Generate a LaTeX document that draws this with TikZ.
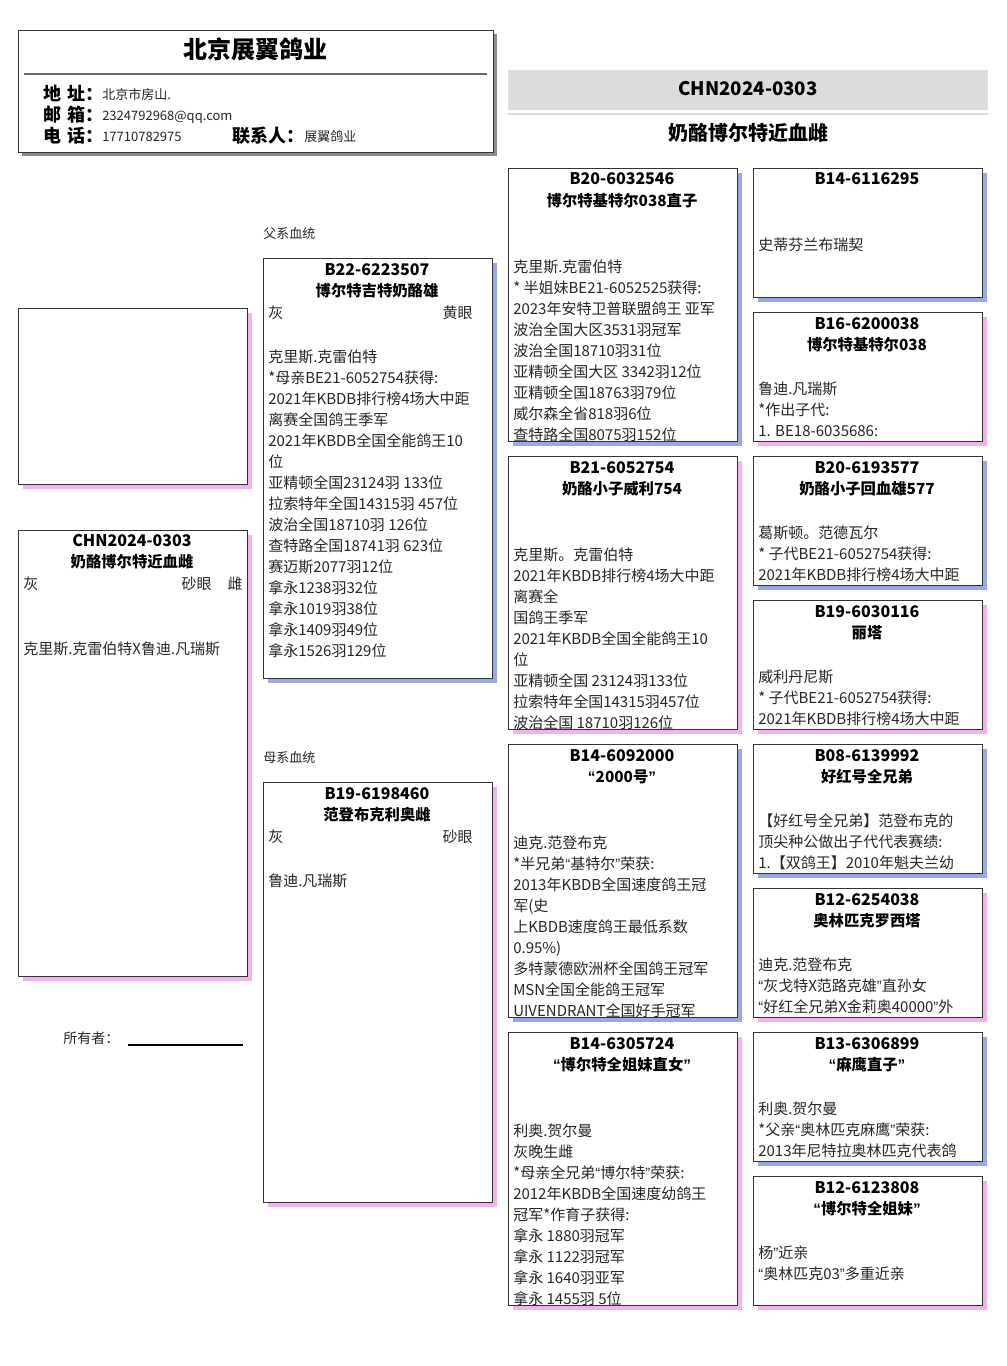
\documentclass[tikz,border=0pt]{standalone}
\usepackage{fontspec}
\setmainfont{Noto Sans CJK SC}
\newfontfamily\latf{Liberation Sans}
\newcommand\oq{{\latf “}}
\newcommand\cq{{\latf ”}}
\definecolor{mshadow}{HTML}{9AA8E6}
\definecolor{fshadow}{HTML}{F0B4EA}
\definecolor{band}{HTML}{DCDCDC}
\definecolor{frame}{HTML}{333333}
\newcommand\pbox[6]{% name, x, y, w, h, shadow colour
  \fill[#6] (#2+5,#3+5) rectangle ++(#4,#5);
  \node[pbx, minimum width={#4*0.75pt}, minimum height={#5*0.75pt}] (#1) at (#2,#3) {};}
\newcommand\hd[4]{% xcenter, ytop, ring, name
  \node[rg] at (#1,#2+17) {#3};
  \node[nm] at (#1,#2+38) {#4};}
\newcommand\bd[3]{% x, first line centre y, lines
  \foreach \t [count=\i from 0] in {#3} {\node[tx] at (#1,#2+6+21*\i) {\t};}}
\begin{document}
\begin{tikzpicture}[x=0.75pt,y=-0.75pt,
  pbx/.style={draw=frame,line width=0.8pt,fill=white,anchor=north west,inner sep=0pt},
  rg/.style={anchor=base,inner sep=0pt,font=\bfseries\fontsize{12}{14}\selectfont},
  nm/.style={anchor=base,inner sep=0pt,font=\bfseries\fontsize{11.5}{14}\selectfont},
  tx/.style={anchor=base west,inner sep=0pt,font=\fontsize{11.25}{14}\selectfont,text=black!85},
  txr/.style={anchor=base east,inner sep=0pt,font=\fontsize{11.25}{14}\selectfont,text=black!85},
  lbl/.style={anchor=base west,inner sep=0pt,font=\bfseries\fontsize{13.5}{16}\selectfont},
  val/.style={anchor=base west,inner sep=0pt,font=\fontsize{9.75}{12}\selectfont,text=black!85},
  small/.style={anchor=base west,inner sep=0pt,font=\fontsize{9.75}{12}\selectfont,text=black!85}]
\useasboundingbox (0,0) rectangle (1006,1366);
\fill[white] (0,0) rectangle (1006,1366);

% ---------- header card ----------
\fill[black!45] (22,34) rectangle (497,156);
\node[pbx, minimum width={475*0.75pt}, minimum height={122*0.75pt}] (card) at (18,30) {};
\node[anchor=base,inner sep=0pt,font=\bfseries\fontsize{18}{20}\selectfont] (farm) at (255,59) {北京展翼鸽业};
\draw[black!60,line width=0.8pt] (24,74) -- (487,74);
\node[lbl] (l1) at (43,101) {地\,\,址：};
\node[val] (v1) at (102,100) {北京市房山.};
\node[lbl] (l2) at (43,122) {邮\,\,箱：};
\node[val] (v2) at (102,121) {2324792968@qq.com};
\node[lbl] (l3) at (43,143) {电\,\,话：};
\node[val] (v3) at (102,142) {17710782975};
\node[lbl] (l4) at (232,143) {联系人：};
\node[val] (v4) at (304,142) {展翼鸽业};

% ---------- title ----------
\fill[band] (508,70) rectangle (988,110);
\draw[band,line width=2.2pt] (508,114) -- (988,114);
\node[anchor=base,inner sep=0pt,font=\bfseries\fontsize{14}{16}\selectfont] (ring) at (748,96) {CHN2024-0303};
\node[anchor=base,inner sep=0pt,font=\bfseries\fontsize{15}{17}\selectfont] (title) at (748,141) {奶酪博尔特近血雌};

% ---------- photo and subject ----------
\pbox{photo}{18}{308}{229}{176}{fshadow}
\pbox{subject}{18}{530}{229}{446}{fshadow}
\node[rg] at (132,546) {CHN2024-0303};
\node[nm] at (132,567) {奶酪博尔特近血雌};
\node[tx] at (23,589) {灰};
\node[txr] at (212,589) {砂眼};
\node[txr] at (243,589) {雌};
\node[tx] at (23,654) {克里斯.克雷伯特X鲁迪.凡瑞斯};

\node[anchor=base west,inner sep=0pt,font=\fontsize{10.5}{12}\selectfont,text=black!85] (owner) at (63,1043) {所有者：};
\draw[black,line width=0.8pt] (128,1045) -- (243,1045);

% ---------- sire ----------
\node[small] (sirelbl) at (263,238) {父系血统};
\pbox{sire}{263}{258}{229}{420}{mshadow}
\hd{377}{258}{B22-6223507}{博尔特吉特奶酪雄}
\node[tx] at (268,318) {灰};
\node[txr] at (473,318) {黄眼};
\bd{268}{356}{{克里斯.克雷伯特},{*母亲BE21-6052754获得:},{2021年KBDB排行榜4场大中距},{离赛全国鸽王季军},{2021年KBDB全国全能鸽王10},{位},{亚精顿全国23124羽 133位},{拉索特年全国14315羽 457位},{波治全国18710羽 126位},{查特路全国18741羽 623位},{赛迈斯2077羽12位},{拿永1238羽32位},{拿永1019羽38位},{拿永1409羽49位},{拿永1526羽129位}}

% ---------- dam ----------
\node[small] (damlbl) at (263,762) {母系血统};
\pbox{dam}{263}{782}{229}{420}{fshadow}
\hd{377}{782}{B19-6198460}{范登布克利奥雌}
\node[tx] at (268,842) {灰};
\node[txr] at (473,842) {砂眼};
\node[tx] at (268,886) {鲁迪.凡瑞斯};

% ---------- grandparents ----------
\pbox{gs1}{508}{168}{229}{273}{mshadow}
\hd{622}{168}{B20-6032546}{博尔特基特尔038直子}
\begin{scope}\clip (508,168) rectangle ++(229,272);
\bd{513}{266}{{克里斯.克雷伯特},{* 半姐妹BE21-6052525获得:},{2023年安特卫普联盟鸽王 亚军},{波治全国大区3531羽冠军},{波治全国18710羽31位},{亚精顿全国大区 3342羽12位},{亚精顿全国18763羽79位},{威尔森全省818羽6位},{查特路全国8075羽152位}}
\end{scope}

\pbox{gd1}{508}{456}{229}{273}{fshadow}
\hd{622}{456}{B21-6052754}{奶酪小子威利754}
\begin{scope}\clip (508,456) rectangle ++(229,272);
\bd{513}{554}{{克里斯。克雷伯特},{2021年KBDB排行榜4场大中距},{离赛全},{国鸽王季军},{2021年KBDB全国全能鸽王10},{位},{亚精顿全国 23124羽133位},{拉索特年全国14315羽457位},{波治全国 18710羽126位}}
\end{scope}

\pbox{gs2}{508}{744}{229}{273}{mshadow}
\hd{622}{744}{B14-6092000}{\oq 2000号\cq}
\begin{scope}\clip (508,744) rectangle ++(229,272);
\bd{513}{842}{{迪克.范登布克},{*半兄弟\oq 基特尔\cq 荣获:},{2013年KBDB全国速度鸽王冠},{军(史},{上KBDB速度鸽王最低系数},{0.95\%)},{多特蒙德欧洲杯全国鸽王冠军},{MSN全国全能鸽王冠军},{UIVENDRANT全国好手冠军}}
\end{scope}

\pbox{gd2}{508}{1032}{229}{273}{fshadow}
\hd{622}{1032}{B14-6305724}{\oq 博尔特全姐妹直女\cq}
\begin{scope}\clip (508,1032) rectangle ++(229,272);
\bd{513}{1130}{{利奥.贺尔曼},{灰晚生雌},{*母亲全兄弟\oq 博尔特\cq 荣获:},{2012年KBDB全国速度幼鸽王},{冠军*作育子获得:},{拿永 1880羽冠军},{拿永 1122羽冠军},{拿永 1640羽亚军},{拿永 1455羽 5位}}
\end{scope}

% ---------- great-grandparents ----------
\pbox{g1}{753}{168}{229}{129}{mshadow}
\node[rg] at (867,185) {B14-6116295};
\bd{758}{244}{{史蒂芬兰布瑞契}}

\pbox{g2}{753}{312}{229}{129}{fshadow}
\hd{867}{312}{B16-6200038}{博尔特基特尔038}
\bd{758}{388}{{鲁迪.凡瑞斯},{*作出子代:},{1. BE18-6035686:}}

\pbox{g3}{753}{456}{229}{129}{mshadow}
\hd{867}{456}{B20-6193577}{奶酪小子回血雄577}
\bd{758}{532}{{葛斯顿。范德瓦尔},{* 子代BE21-6052754获得:},{2021年KBDB排行榜4场大中距}}

\pbox{g4}{753}{600}{229}{129}{fshadow}
\hd{867}{600}{B19-6030116}{丽塔}
\bd{758}{676}{{威利丹尼斯},{* 子代BE21-6052754获得:},{2021年KBDB排行榜4场大中距}}

\pbox{g5}{753}{744}{229}{129}{mshadow}
\hd{867}{744}{B08-6139992}{好红号全兄弟}
\begin{scope}\clip (753,744) rectangle ++(229,128);
\bd{758}{820}{{【好红号全兄弟】范登布克的},{顶尖种公做出子代代表赛绩:},{1.【双鸽王】2010年魁夫兰幼}}
\end{scope}

\pbox{g6}{753}{888}{229}{129}{fshadow}
\hd{867}{888}{B12-6254038}{奥林匹克罗西塔}
\begin{scope}\clip (753,888) rectangle ++(229,128);
\bd{758}{964}{{迪克.范登布克},{\oq 灰戈特X范路克雄\cq 直孙女},{\oq 好红全兄弟X金莉奥40000\cq 外}}
\end{scope}

\pbox{g7}{753}{1032}{229}{129}{mshadow}
\hd{867}{1032}{B13-6306899}{\oq 麻鹰直子\cq}
\begin{scope}\clip (753,1032) rectangle ++(229,128);
\bd{758}{1108}{{利奥.贺尔曼},{*父亲\oq 奥林匹克麻鹰\cq 荣获:},{2013年尼特拉奥林匹克代表鸽}}
\end{scope}

\pbox{g8}{753}{1176}{229}{129}{fshadow}
\hd{867}{1176}{B12-6123808}{\oq 博尔特全姐妹\cq}
\bd{758}{1252}{{杨\cq 近亲},{\oq 奥林匹克03\cq 多重近亲}}
\end{tikzpicture}
\end{document}
